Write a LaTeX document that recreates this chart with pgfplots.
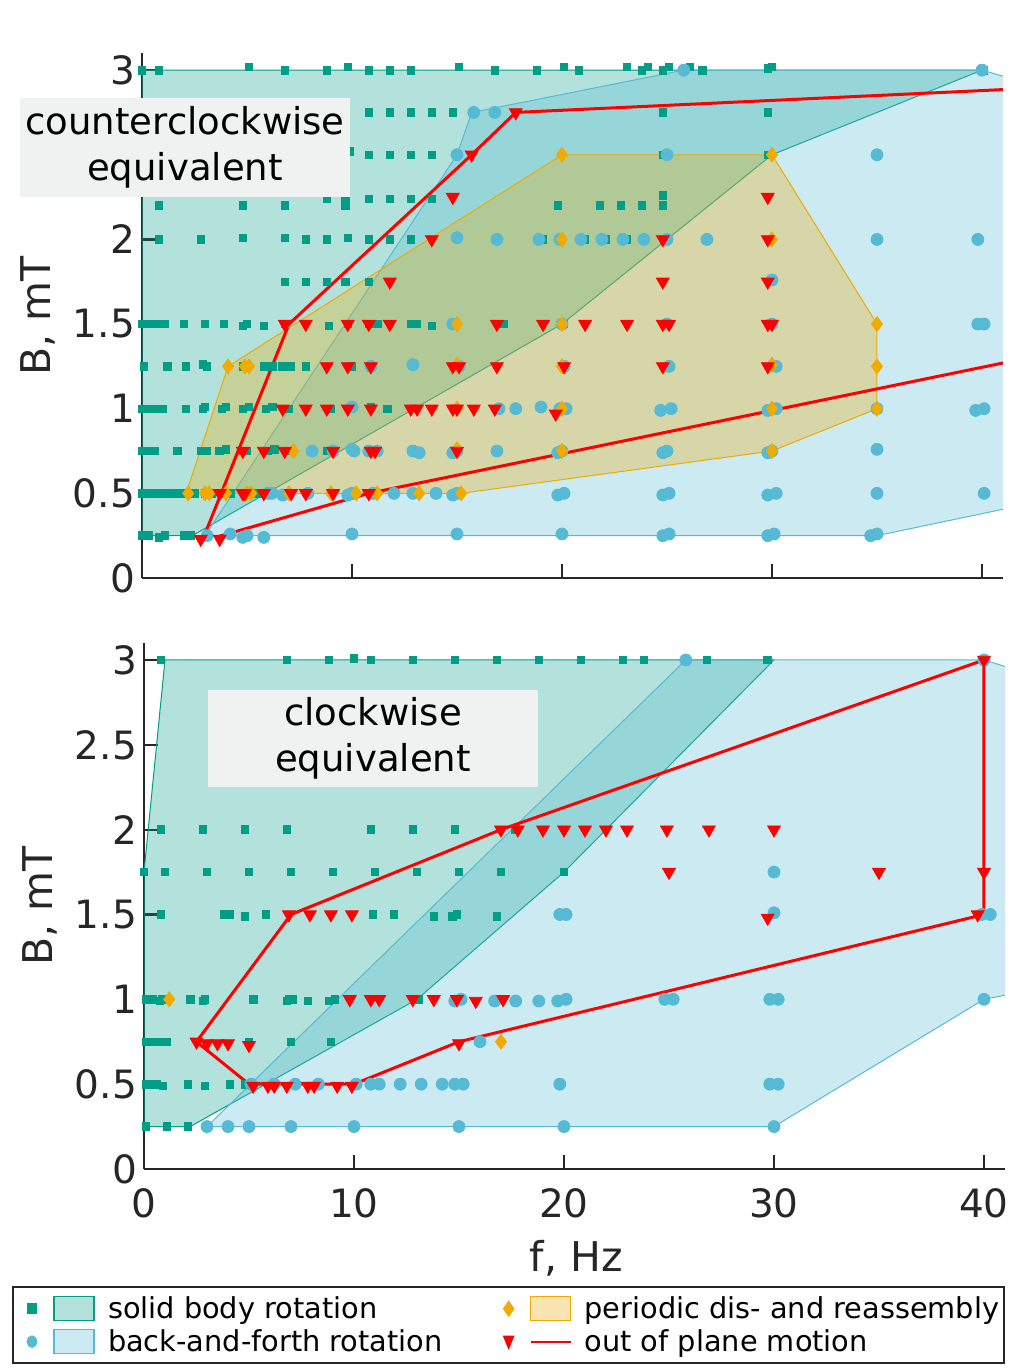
\documentclass[border=0pt]{standalone}
\usepackage{pgfplots}
\pgfplotsset{compat=1.18}
\usepackage{fontspec}
\setmainfont{DejaVu Sans}
\definecolor{cteal}{RGB}{0,158,135}
\definecolor{cblue}{RGB}{86,186,212}
\definecolor{corange}{RGB}{240,170,0}
\definecolor{cred}{RGB}{255,0,0}
\definecolor{axgray}{RGB}{38,38,38}
\definecolor{boxgray}{RGB}{240,241,241}
\definecolor{faint}{RGB}{224,226,226}
\pgfplotsset{
  common/.style={
    scale only axis, width=430.5pt, xmin=0, xmax=41, ymin=0, ymax=3.1,
    axis lines*=left,
    axis line style={line width=1.1pt, axgray},
    tick style={line width=1.1pt, axgray},
    major tick length=7pt, tick align=inside,
    xtick={0,10,20,30,40}, ytick={0,0.5,1,1.5,2,2.5,3},
    yticklabels={0,0.5,1,1.5,2,2.5,3},
    tick label style={font=\fontsize{19.5}{22}\selectfont, text=axgray},
    xticklabel style={yshift=-6pt},
    /pgf/number format/assume math mode=true,
    ylabel={B, mT},
    ylabel style={font=\fontsize{20.5}{24}\selectfont, text=axgray, at={(axis description cs:-0.1,0.5)}, anchor=south, inner sep=0pt},
    anchor=south west,
  },
  tsq/.style={only marks, mark=square*, mark size=1.9pt, color=cteal, forget plot},
  bci/.style={only marks, mark=*, mark size=3pt, color=cblue, forget plot},
  ydi/.style={only marks, mark=diamond*, mark size=3.7pt, color=corange, forget plot},
  rtr/.style={only marks, mark=triangle*, mark size=3.7pt, mark options={rotate=180}, color=cred, forget plot},
  rln/.style={color=cred, line width=1.5pt, no marks, forget plot},
  tfill/.style={fill=cteal, fill opacity=0.3, draw=cteal, line width=0.5pt, forget plot},
  bfill/.style={fill=cblue, fill opacity=0.3, draw=cblue, line width=0.5pt, forget plot},
  yfill/.style={fill=corange, fill opacity=0.3, draw=corange, line width=0.5pt, forget plot},
}
\begin{document}
\begin{tikzpicture}
\path[use as bounding box] (0,0) rectangle (512pt,686pt);
% ---------------- top panel ----------------
\begin{axis}[common, height=262.4pt, at={(71pt,397pt)}, xticklabels={},
  yticklabels={0,0.5,1,1.5,2,\textcolor{faint}{2.5},3}]
\addplot[tfill] coordinates {(0,0.25)(2.4,0.25)(20,1.5)(30,2.5)(40,3)(0,3)(0,0.25)};
\addplot[bfill] coordinates {(3,0.25)(35,0.25)(45,0.51)(45,2.82)(40,3)(25.8,3)(15.7,2.75)(15,2.5)(3,0.25)};
\addplot[yfill] coordinates {(2.1,0.5)(4.1,1.25)(20,2.5)(30,2.5)(35,1.5)(35,1.0)(30,0.75)(15.2,0.5)(2.1,0.5)};
\addplot[tsq] coordinates {
(0,3)(0.8,3)(5.1,3.02)(6.8,3)(8.8,3)(9.8,3.02)(10.8,3)(11.8,3)(12.8,3)(15.1,3.02)(16.8,3)(18.8,3)(20.1,3.02)(20.8,3)(23.1,3.02)(23.8,3)(24.1,3.02)(24.8,3)(25.1,3.02)(26.1,3.02)(26.7,3)(29.8,3.01)(30,3.02)(40.1,3)
(0.8,2.75)(4.8,2.75)(6.8,2.75)(8.8,2.75)(10.8,2.75)(11.8,2.75)(12.8,2.75)(13.8,2.75)(14.8,2.75)(24.8,2.75)(29.8,2.75)
(0.8,2.5)(4.8,2.5)(6.8,2.5)(8.8,2.5)(9.9,2.52)(10.8,2.5)(11.8,2.5)(12.8,2.5)(13.8,2.5)(24.8,2.5)(29.8,2.5)
(0.8,2.2)(4.8,2.2)(6.8,2.2)(8.8,2.24)(9.7,2.24)(9.7,2.2)(10.8,2.24)(11.8,2.24)(12.8,2.24)(13.8,2.24)(19.8,2.2)(21.8,2.2)(22.8,2.2)(23.8,2.2)(24.8,2.2)(24.8,2.26)
(0.8,2)(2.8,2)(4.8,2.01)(6.8,2.01)(7.8,2)(8.8,2)(9.8,2.01)(10.8,2)(11.8,2)(12.8,2)(19.1,2)(21.1,2)(22.1,2)(23.1,2)
(6.8,1.75)(7.8,1.75)(8.8,1.75)(9.7,1.75)(10.8,1.75)
(0,1.5)(0.4,1.5)(0.8,1.5)(1.1,1.5)(2,1.5)(3,1.5)(3.9,1.5)(4.8,1.49)(5,1.5)(5.8,1.49)(6.8,1.5)(8.9,1.49)(9.8,1.5)(10.8,1.5)(11.2,1.5)(12.8,1.5)(13.1,1.5)(13.8,1.49)(17.2,1.5)(20.1,1.5)
(0.1,1.25)(1.2,1.25)(2.1,1.25)(2.9,1.26)(3.1,1.25)(4.8,1.25)(5.8,1.25)(6.2,1.25)(6.7,1.25)(7.1,1.25)(7.8,1.25)(10,1.25)
(0,1)(0.3,1)(0.6,1)(1,1)(2.1,1)(2.9,1)(3,1.01)(3.8,1)(4,1.01)(4.8,1)(5.1,1.01)(5.9,1)(6.2,1.01)(7,1)(9,1)(10.9,1.01)(11.7,1)
(0,0.75)(0.3,0.75)(0.6,0.75)(1.7,0.75)(2.8,0.75)(3.1,0.75)(3.7,0.75)(4,0.76)(4.8,0.75)(5,0.75)(6,0.75)(6.3,0.76)(6.9,0.75)(8.8,0.75)
(0,0.5)(0.2,0.5)(0.4,0.5)(0.6,0.5)(0.8,0.5)(1,0.5)(1.3,0.5)(1.6,0.5)(2,0.5)(2.5,0.5)(3,0.5)(3.3,0.5)(3.9,0.5)(4.2,0.5)(5,0.5)(5.5,0.5)
(0,0.25)(0.3,0.25)(0.8,0.24)(1.1,0.25)(2,0.25)(2.3,0.25)
};
\addplot[bci] coordinates {
(25.8,3)(40,3)
(15.8,2.75)(16.8,2.75)
(15,2.5)(25,2.5)(35,2.5)
(15,2.01)(16.9,2)(18.9,2)(19.9,2)(20.9,2)(21.9,2)(22.9,2)(23.9,2)(25,2)(26.9,2)(35,2)(39.8,2)
(30,1.76)
(14.8,1.5)(20,1.5)(25,1.5)(30,1.5)(39.8,1.5)(40.1,1.5)
(10.9,1.25)(12.9,1.26)(15.1,1.25)(20.1,1.25)(25.1,1.25)(30.2,1.25)
(10,1.01)(17,1)(17.8,1)(19,1.01)(19.9,1)(20.2,1)(24.7,0.99)(25.2,1)(29.8,0.99)(30.2,1)(35,1)(39.7,0.99)(40.1,1)
(8.1,0.75)(9.1,0.75)(10,0.76)(10.1,0.75)(10.8,0.75)(11.2,0.75)(12.9,0.75)(13.2,0.74)(14.8,0.74)(15,0.75)(16.9,0.75)(19.8,0.74)(20,0.75)(24.8,0.74)(25,0.75)(29.8,0.74)(30,0.75)(35,0.76)
(6,0.5)(6.2,0.5)(6.7,0.49)(7.9,0.5)(9.8,0.49)(10,0.5)(11,0.5)(12,0.5)(12.9,0.5)(14,0.5)(14.8,0.49)(15,0.5)(19.8,0.49)(20.1,0.5)(24.8,0.49)(25.1,0.5)(29.8,0.49)(30.2,0.5)(35,0.5)(40.1,0.5)
(3.1,0.25)(4.2,0.26)(4.8,0.24)(5,0.25)(5.8,0.24)(10,0.26)(15,0.26)(20,0.26)(24.8,0.25)(25.1,0.26)(29.8,0.25)(30.1,0.26)(34.7,0.25)(35,0.26)
};
\addplot[ydi] coordinates {
(20,2.5)(30,2.5)(20,2.0)(30,2.0)(15,1.5)(20,1.5)(35,1.5)
(4.1,1.25)(4.9,1.25)(5.1,1.25)(15,1.26)(20,1.25)(30,1.26)(35,1.25)
(15,1.0)(20,1.0)(30,1.0)(35,1.0)
(7.2,0.75)(15,0.76)(20,0.75)(30,0.75)
(2.2,0.5)(3.0,0.5)(3.2,0.5)(4.0,0.5)(5.0,0.5)(5.2,0.5)(7.0,0.5)(9.0,0.5)(10.2,0.5)(11.2,0.5)(13.2,0.5)(15.2,0.5)
};
\addplot[rln] coordinates {(2.9,0.23)(7,1.5)(15.7,2.5)(17.8,2.75)(41,2.885)};
\addplot[rln] coordinates {(3.5,0.24)(10.8,0.5)(41,1.27)};
\addplot[rtr] coordinates {
(17.8,2.75)(15.7,2.5)(14.8,2.25)(29.8,2.25)(13.8,2.0)(24.8,2.0)(29.8,2.0)(11.8,1.75)(24.8,1.75)(29.8,1.75)
(6.8,1.5)(7.8,1.5)(9.8,1.5)(10.8,1.5)(11.8,1.5)(16.9,1.5)(19.1,1.5)(21.1,1.5)(23.1,1.5)(24.8,1.5)(25.1,1.5)(29.8,1.5)(30,1.5)
(8.8,1.25)(9.8,1.25)(10.9,1.25)(14.8,1.25)(15.1,1.25)(16.9,1.25)(20.1,1.25)(24.8,1.25)(29.8,1.25)
(6.7,1)(7.8,1)(8.8,1)(9.8,1)(10.9,1)(12.8,1)(13.1,1)(13.8,1)(14.8,1)(15,1)(15.8,1)(16.8,1)(19.7,0.97)
(4.8,0.75)(5.8,0.75)(6.8,0.75)(9.1,0.75)(10.9,0.75)(11.1,0.75)(15,0.75)
(3.7,0.5)(4.8,0.5)(4.9,0.5)(5.8,0.5)(7.1,0.5)(7.8,0.5)(9.1,0.5)(10.8,0.5)
(2.8,0.23)(3.7,0.23)
};
\coordinate (boxA) at (axis cs:2.048,2.543);
\end{axis}
\node[fill=boxgray, inner sep=0pt, minimum width=165pt, minimum height=49.5pt, align=center, font=\fontsize{18.5}{23}\selectfont] at (boxA) {counterclockwise\\equivalent};
% ---------------- bottom panel ----------------
\begin{axis}[common, height=263pt, at={(72pt,101.5pt)},
  xticklabels={0,10,20,30,40},
  xlabel={f, Hz},
  xlabel style={font=\fontsize{20.5}{24}\selectfont, text=axgray, at={(axis description cs:0.502,-0.135)}, anchor=north, inner sep=0pt},
  legend columns=2, legend cell align=left,
  legend style={at={(axis description cs:-0.1533,-0.223)}, anchor=north west, draw=axgray, line width=1pt,
    font=\fontsize{14.4}{17}\selectfont, inner xsep=0.5pt, inner ysep=2.5pt,
    /tikz/every even column/.append style={column sep=22pt}},
]
\addplot[tfill] coordinates {(0,0.25)(2.2,0.25)(13,1)(20,1.75)(30,3)(1,3)(0,1.75)(0,0.25)};
\addplot[bfill] coordinates {(3,0.25)(30,0.25)(40,1.0)(45,1.12)(45,2.81)(40,3)(25.8,3)(3,0.25)};
\addplot[tsq] coordinates {
(0.8,3)(6.8,3)(8.8,3)(10,3.01)(10.8,3)(12.8,3)(14.8,3)(16.8,3)(18.8,3)(20.8,3)(22.8,3)(23.8,3)(26.8,3)(29.7,3)
(0.8,2)(2.8,2)(4.8,2)(6.8,2)(10.8,2)(12.8,2)(14.8,2)(17.7,2)
(0,1.75)(1,1.75)(3,1.75)(5,1.75)(7,1.75)(9,1.75)(11,1.75)(13,1.75)(15,1.75)(17,1.75)(20,1.75)
(0.8,1.5)(3.8,1.5)(4.1,1.5)(4.8,1.49)(5.8,1.5)(10.9,1.5)(11.9,1.5)(13.8,1.49)(14.7,1.49)(14.9,1.5)(16.8,1.49)
(0.1,1)(0.4,1)(0.75,0.99)(0.85,1)(2.2,1)(2.8,0.99)(2.9,1)(5.2,1)(6.8,0.99)(6.9,1)(7.1,1)(7.8,0.99)(8.8,0.99)(9.1,1)(13.1,1)
(0.1,0.75)(0.4,0.75)(0.7,0.75)(1.1,0.75)(5,0.75)(7,0.75)(8.9,0.75)
(0.1,0.5)(0.3,0.5)(0.6,0.5)(0.9,0.49)(2.1,0.5)(2.9,0.49)(4.1,0.5)(4.8,0.5)
(0.1,0.25)(1.1,0.25)(2.1,0.25)
};
\addplot[bci] coordinates {
(25.8,3)(40,3)
(30,1.75)
(19.8,1.5)(20.1,1.5)(30,1.51)(39.9,1.5)(40.3,1.5)
(14.8,0.99)(15.1,1)(16.7,0.99)(17.7,0.99)(18.8,0.99)(19.7,0.99)(20.1,1)(24.8,1)(25.2,1)(29.8,1)(30.2,1)(40,1)
(16,0.75)
(5.1,0.5)(6.2,0.5)(7.2,0.5)(8.3,0.5)(10.1,0.5)(10.8,0.5)(11.2,0.5)(12.2,0.5)(13.2,0.5)(14.2,0.5)(14.8,0.5)(15.2,0.5)(19.8,0.5)(29.8,0.5)(30.2,0.5)
(3,0.25)(4,0.25)(5,0.25)(7,0.25)(10,0.25)(15,0.25)(20,0.25)(30,0.25)
};
\addplot[ydi] coordinates {(1.2,1.0)(17,0.75)};
\addplot[rln] coordinates {(2.5,0.75)(7,1.5)(17,2)(40,3)(40,1.5)(15,0.75)(10,0.5)(5,0.5)(2.5,0.75)};
\addplot[rtr] coordinates {
(40,3)(40,1.75)(39.7,1.5)
(17,2)(17.8,2)(19,2)(20,2)(21,2)(22,2)(23,2)(24.9,2)(26.9,2)(30,2)
(25,1.75)(35,1.75)
(6.9,1.5)(7.9,1.5)(8.9,1.5)(9.9,1.5)(29.7,1.48)
(9.8,1)(10.8,1)(11.2,1)(12.8,1)(13.8,1)(14.9,1)(15.8,0.99)(17.1,1)
(2.5,0.75)(3.0,0.74)(3.5,0.74)(4.0,0.74)(5.0,0.73)(15,0.74)
(5.2,0.49)(5.9,0.49)(6.2,0.49)(6.8,0.49)(7.8,0.49)(8.1,0.49)(9.2,0.49)(9.9,0.49)
};
\coordinate (boxB) at (axis cs:10.905,2.537);
\addlegendimage{legend image code/.code={
  \path (-8.5pt,0pt) (35.5pt,0pt);
  \fill[cteal] (-2pt,-2.3pt) rectangle (2pt,2.3pt);
  \draw[cteal, fill=cteal, fill opacity=0.3, line width=0.6pt] (11pt,-6pt) rectangle (31pt,6pt);}}
\addlegendentry{solid body rotation}
\addlegendimage{legend image code/.code={
  \path (-8.5pt,0pt) (35.5pt,0pt);
  \fill[corange] (0pt,-3.3pt) -- (2.3pt,0pt) -- (0pt,3.3pt) -- (-2.3pt,0pt) -- cycle;
  \draw[corange, fill=corange, fill opacity=0.3, line width=0.6pt] (11pt,-6pt) rectangle (31pt,6pt);}}
\addlegendentry{periodic dis- and reassembly}
\addlegendimage{legend image code/.code={
  \path (-8.5pt,0pt) (35.5pt,0pt);
  \fill[cblue] (0pt,0pt) ellipse (2.2pt and 2.6pt);
  \draw[cblue, fill=cblue, fill opacity=0.3, line width=0.6pt] (11pt,-6pt) rectangle (31pt,6pt);}}
\addlegendentry{back-and-forth rotation}
\addlegendimage{legend image code/.code={
  \path (-8.5pt,0pt) (35.5pt,0pt);
  \fill[cred] (-2.2pt,2.5pt) -- (2.2pt,2.5pt) -- (0pt,-2.8pt) -- cycle;
  \draw[cred, line width=1pt] (11pt,0pt) -- (31pt,0pt);}}
\addlegendentry{out of plane motion}
\end{axis}
\node[fill=boxgray, inner sep=0pt, minimum width=165pt, minimum height=48.5pt, align=center, font=\fontsize{18.5}{23}\selectfont] at (boxB) {clockwise\\equivalent};
\end{tikzpicture}
\end{document}
